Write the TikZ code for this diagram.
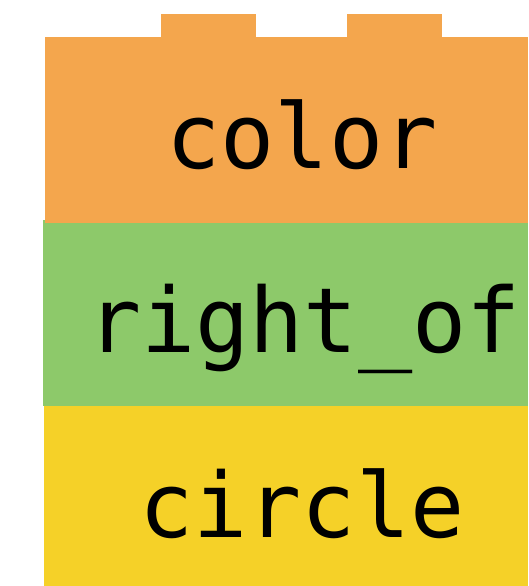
\documentclass[tikz,border=0pt]{standalone}
\usepackage{fontspec}
\newfontfamily\blockmono{DejaVu Sans Mono}
\definecolor{blkorange}{HTML}{F4A64D}
\definecolor{blkgreen}{HTML}{8DC96A}
\definecolor{blkyellow}{HTML}{F5D128}
\tikzset{
  blocklabel/.style={anchor=base, inner sep=0pt, font=\blockmono\fontsize{90}{100}\selectfont, text=black}
}
\begin{document}
\begin{tikzpicture}[x=1pt,y=-1pt]
\useasboundingbox (0,0) rectangle (528,586);
% green block
\fill[blkgreen] (43,220) rectangle (528,406);
% orange block with tabs
\fill[blkorange] (45,37) rectangle (528,223);
\fill[blkorange] (161,14) rectangle (256,37.5);
\fill[blkorange] (347,14) rectangle (442,37.5);
% yellow block
\fill[blkyellow] (44,406) rectangle (528,586);
% labels
\node[blocklabel] (color) at (302,168) {color};
\node[blocklabel] (rightof) at (304,352) {right\_of};
\node[blocklabel] (circle) at (302,537) {circle};
\end{tikzpicture}
\end{document}
